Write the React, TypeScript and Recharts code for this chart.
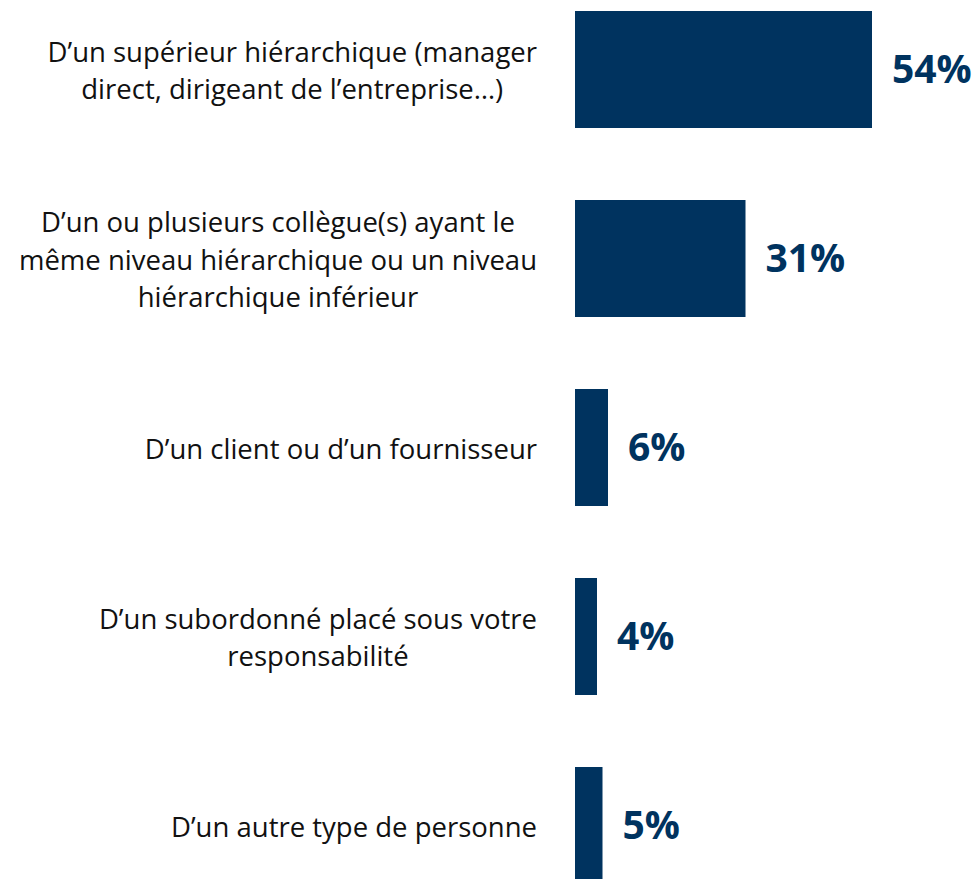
import { BarChart, Bar, XAxis, YAxis, LabelList } from "recharts";

const categories = [
  "D’un supérieur hiérarchique (manager|direct, dirigeant de l’entreprise…)",
  "D’un ou plusieurs collègue(s) ayant le|même niveau hiérarchique ou un niveau|hiérarchique inférieur",
  "D’un client ou d’un fournisseur",
  "D’un subordonné placé sous votre|responsabilité",
  "D’un autre type de personne",
];
const values = [54, 31, 6, 4, 5];

const data = categories.map((name, i) => ({ name, value: values[i] }));

const NAVY = "#00335F";
const LABEL_FONT = "Open Sans";
const LABEL_SIZE = 27.5;
const LINE_H = 37.5;
const RIGHT_EDGE = 537;

let ctx: CanvasRenderingContext2D | null = null;
function measure(text: string) {
  if (!ctx) ctx = document.createElement("canvas").getContext("2d");
  if (!ctx) return text.length * LABEL_SIZE * 0.5;
  ctx.font = `${LABEL_SIZE}px "${LABEL_FONT}"`;
  return ctx.measureText(text).width;
}

function CategoryTick(props: any) {
  const { y, payload } = props;
  const lines: string[] = String(payload.value).split("|");
  const maxW = Math.max(...lines.map(measure));
  const cx = RIGHT_EDGE - maxW / 2;
  const startY = y - ((lines.length - 1) * LINE_H) / 2;
  return (
    <text
      x={cx}
      y={startY}
      textAnchor="middle"
      dominantBaseline="central"
      fontFamily={LABEL_FONT}
      fontSize={LABEL_SIZE}
      fill="#111"
    >
      {lines.map((l, i) => (
        <tspan key={i} x={cx} y={startY + i * LINE_H}>
          {l}
        </tspan>
      ))}
    </text>
  );
}

export default function App() {
  return (
    <div
      style={{
        position: "absolute",
        top: 0,
        left: 0,
        width: 978,
        height: 879,
        overflow: "hidden",
        background: "#fff",
      }}
    >
      <div style={{ marginTop: -25 }}>
        <BarChart
          width={978}
          height={945}
          data={data}
          layout="vertical"
          margin={{ top: 0, right: 7, bottom: 0, left: 0 }}
        >
          <XAxis type="number" domain={[0, 72]} hide />
          <YAxis
            type="category"
            dataKey="name"
            width={575}
            axisLine={false}
            tickLine={false}
            tick={<CategoryTick />}
            interval={0}
          />
          <Bar dataKey="value" fill={NAVY} barSize={117} isAnimationActive={false}>
            <LabelList
              dataKey="value"
              position="right"
              offset={20}
              formatter={(v: any) => `${v}%`}
              fill={NAVY}
              fontFamily="Open Sans"
              fontWeight={700}
              fontSize={39}
            />
          </Bar>
        </BarChart>
      </div>
    </div>
  );
}
